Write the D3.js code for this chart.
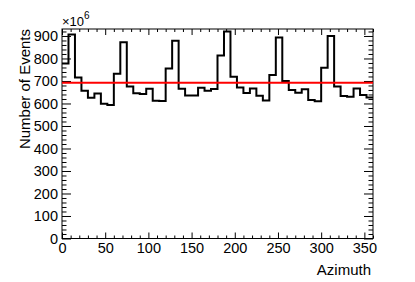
<!DOCTYPE html>
<html>
<head>
<meta charset="utf-8">
<script src="https://cdn.jsdelivr.net/npm/d3@7"></script>
<style>
  body { margin: 0; background: #fff; }
  svg { display: block; }
  text { font-family: "Liberation Sans", Arial, sans-serif; fill: #000; }
</style>
</head>
<body>
<svg id="chart" width="415" height="282"></svg>
<script>
// histogram of events per azimuth bin (units of 10^6), 48 bins of 7.5 deg
const binWidth = 7.5;
const counts = [
  778, 907, 715, 657, 626, 644, 599, 593,
  732, 872, 675, 645, 642, 665, 612, 611,
  755, 879, 665, 635, 636, 670, 657, 664,
  813, 920, 719, 671, 647, 667, 634, 613,
  727, 893, 700, 660, 648, 663, 615, 610,
  759, 900, 675, 633, 630, 667, 638, 627
];
const fitValue = 692; // constant fit (red line)

const xTicks = [0, 50, 100, 150, 200, 250, 300, 350];
const yTicks = [0, 100, 200, 300, 400, 500, 600, 700, 800, 900];
const xDomain = [0, 360];
const yDomain = [0, 931];

const svg = d3.select("#chart");
const frameL = 62, frameR = 373, frameT = 29, frameB = 238.5;
const labelSize = 14.5;

const x = d3.scaleLinear().domain(xDomain).range([frameL, frameR]);
const y = d3.scaleLinear().domain(yDomain).range([frameB, frameT]);

const xMinor = d3.range(0, 361, 10).filter(d => d % 50 !== 0);
const yMinor = d3.range(0, 931, 20).filter(d => d % 100 !== 0);

const noDomain = g => g.select(".domain").remove();
const style = (g) => {
    g.selectAll("line").attr("stroke", "#000").attr("stroke-width", 1);
    g.selectAll("text")
        .style("font-family", "'Liberation Sans', Arial, sans-serif")
        .style("font-size", labelSize + "px")
        .attr("fill", "#000");
};

// bottom axis
svg.append("g").attr("transform", `translate(0,${frameB})`)
    .call(d3.axisBottom(x).tickValues(xTicks).tickSize(-6).tickPadding(4))
    .call(noDomain).call(style);
svg.append("g").attr("transform", `translate(0,${frameB})`)
    .call(d3.axisBottom(x).tickValues(xMinor).tickSize(-3).tickFormat(""))
    .call(noDomain).call(style);
// top axis (ticks only)
svg.append("g").attr("transform", `translate(0,${frameT})`)
    .call(d3.axisTop(x).tickValues(xTicks).tickSize(-6).tickFormat(""))
    .call(noDomain).call(style);
svg.append("g").attr("transform", `translate(0,${frameT})`)
    .call(d3.axisTop(x).tickValues(xMinor).tickSize(-3).tickFormat(""))
    .call(noDomain).call(style);

// left axis
svg.append("g").attr("transform", `translate(${frameL},0)`)
    .call(d3.axisLeft(y).tickValues(yTicks).tickSize(-9).tickPadding(4))
    .call(noDomain).call(style);
svg.append("g").attr("transform", `translate(${frameL},0)`)
    .call(d3.axisLeft(y).tickValues(yMinor).tickSize(-4.5).tickFormat(""))
    .call(noDomain).call(style);
// right axis (ticks only)
svg.append("g").attr("transform", `translate(${frameR},0)`)
    .call(d3.axisRight(y).tickValues(yTicks).tickSize(-9).tickFormat(""))
    .call(noDomain).call(style);
svg.append("g").attr("transform", `translate(${frameR},0)`)
    .call(d3.axisRight(y).tickValues(yMinor).tickSize(-4.5).tickFormat(""))
    .call(noDomain).call(style);

// frame
svg.append("rect")
    .attr("x", frameL).attr("y", frameT)
    .attr("width", frameR - frameL).attr("height", frameB - frameT)
    .attr("fill", "none").attr("stroke", "#000").attr("stroke-width", 1);

// histogram outline
const pts = counts.map((c, i) => [i * binWidth, c]);
pts.push([xDomain[1], counts[counts.length - 1]]);
const line = d3.line().x(d => x(d[0])).y(d => y(d[1])).curve(d3.curveStepAfter);
svg.append("path")
    .attr("d", line(pts))
    .attr("fill", "none")
    .attr("stroke", "#000")
    .attr("stroke-width", 2);

// fit line
svg.append("line")
    .attr("x1", x(xDomain[0])).attr("x2", x(xDomain[1]))
    .attr("y1", y(fitValue)).attr("y2", y(fitValue))
    .attr("stroke", "#ff0000")
    .attr("stroke-width", 2);

// exponent label
const expo = svg.append("text").attr("x", frameL).attr("y", 26).style("font-size", "13px");
expo.append("tspan").text("\u00d710");
expo.append("tspan").attr("dy", -7).style("font-size", "10px").text("6");

// axis titles
svg.append("text")
    .attr("x", frameR - 2).attr("y", 275)
    .attr("text-anchor", "end")
    .style("font-size", "15px")
    .text("Azimuth");

svg.append("text")
    .attr("transform", `translate(30,${frameT}) rotate(-90)`)
    .attr("text-anchor", "end")
    .style("font-size", "15px")
    .text("Number of Events");
</script>
</body>
</html>
